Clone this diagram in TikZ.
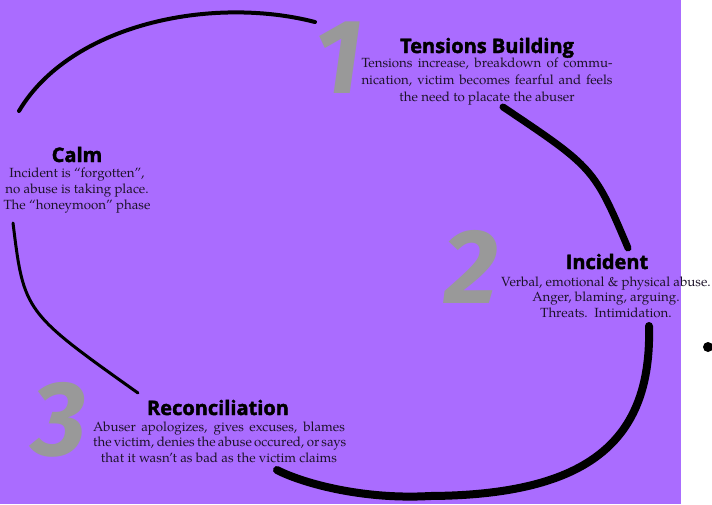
\documentclass[tikz,border=0pt]{standalone}
\usepackage{fontspec}
\setmainfont{TeX Gyre Pagella}
\newfontfamily\heavy{Fira Sans}[BoldFeatures={FakeBold=1.2}]
\newfontfamily\titlefont{Open Sans}[BoldFeatures={FakeBold=2}]
\definecolor{bgpurple}{RGB}{170,108,255}
\definecolor{numgray}{RGB}{153,153,153}
\definecolor{inkcol}{RGB}{28,18,40}
\begin{document}
\begin{tikzpicture}[x=1pt,y=-1pt,
  title/.style={font=\titlefont\bfseries\fontsize{20}{20}\selectfont, inner sep=0pt, anchor=base, text=black},
  body/.style={font=\fontsize{13.3}{17}\selectfont, align=center, inner sep=0pt, anchor=base, text=inkcol},
  num/.style={font=\heavy\bfseries\itshape\fontsize{106}{106}\selectfont, text=numgray, inner sep=0pt, anchor=base},
  arcline/.style={draw=black, line cap=round}
]
\useasboundingbox (0,0) rectangle (712,504);
\fill[bgpurple] (0,0) rectangle (681,504);

% big numbers
\node[num] (n1) at (339,93) {1};
\node[num] (n2) at (471,303) {2};
\node[num] (n3) at (60,455) {3};

% arcs
\coordinate (a1) at (19,111);
\coordinate (a2) at (315,22);
\coordinate (b1) at (503,107);
\coordinate (b2) at (628,248);
\coordinate (c1) at (649,326);
\coordinate (cm) at (430,496);
\coordinate (c2) at (277,470);
\coordinate (d1) at (13,223);
\coordinate (d2) at (138,393);

\draw[arcline, line width=4pt] (a1) .. controls (70,25) and (210,-5) .. (a2);
\draw[arcline, line width=7pt] (b1) .. controls (594,168) .. (b2);
\draw[arcline, line width=8pt] (c1) .. controls (652,440) and (590,495) .. (cm)
   .. controls (360,500) and (300,482) .. (c2);
\draw[arcline, line width=3pt] (d1) .. controls (24,312) .. (d2);

% Tensions Building
\node[title] (t1) at (487,53) {Tensions Building};
\node[body] (b1t) at (487,101) {\makebox[251pt][s]{Tensions increase, breakdown of commu-}\\
  \makebox[251pt][s]{nication, victim becomes fearful and feels}\\
  the need to placate the abuser};

% Incident
\node[title] (t2) at (607,269) {Incident};
\node[body, font=\fontsize{13.3}{15.5}\selectfont] (b2t) at (606,317) {Verbal, emotional \& physical abuse.\\
  Anger, blaming, arguing.\\
  Threats.\ \ Intimidation.};

% Reconciliation
\node[title] (t3) at (218,415) {Reconciliation};
\node[body, font=\fontsize{13.3}{15.5}\selectfont] (b3t) at (219,462) {\makebox[252pt][s]{Abuser apologizes, gives excuses, blames}\\
  \makebox[252pt][s]{the victim, denies the abuse occured, or says}\\
  that it wasn’t as bad as the victim claims};

% Calm
\node[title] (t4) at (77,162) {Calm};
\node[body, font=\fontsize{13.3}{16}\selectfont] (b4t) at (77,209) {Incident is “forgotten”,\\
  no abuse is taking place.\\
  The “honeymoon” phase};

% dot
\node[circle, fill=black, minimum size=10pt, inner sep=0pt] (dot) at (708,347) {};
\end{tikzpicture}
\end{document}
